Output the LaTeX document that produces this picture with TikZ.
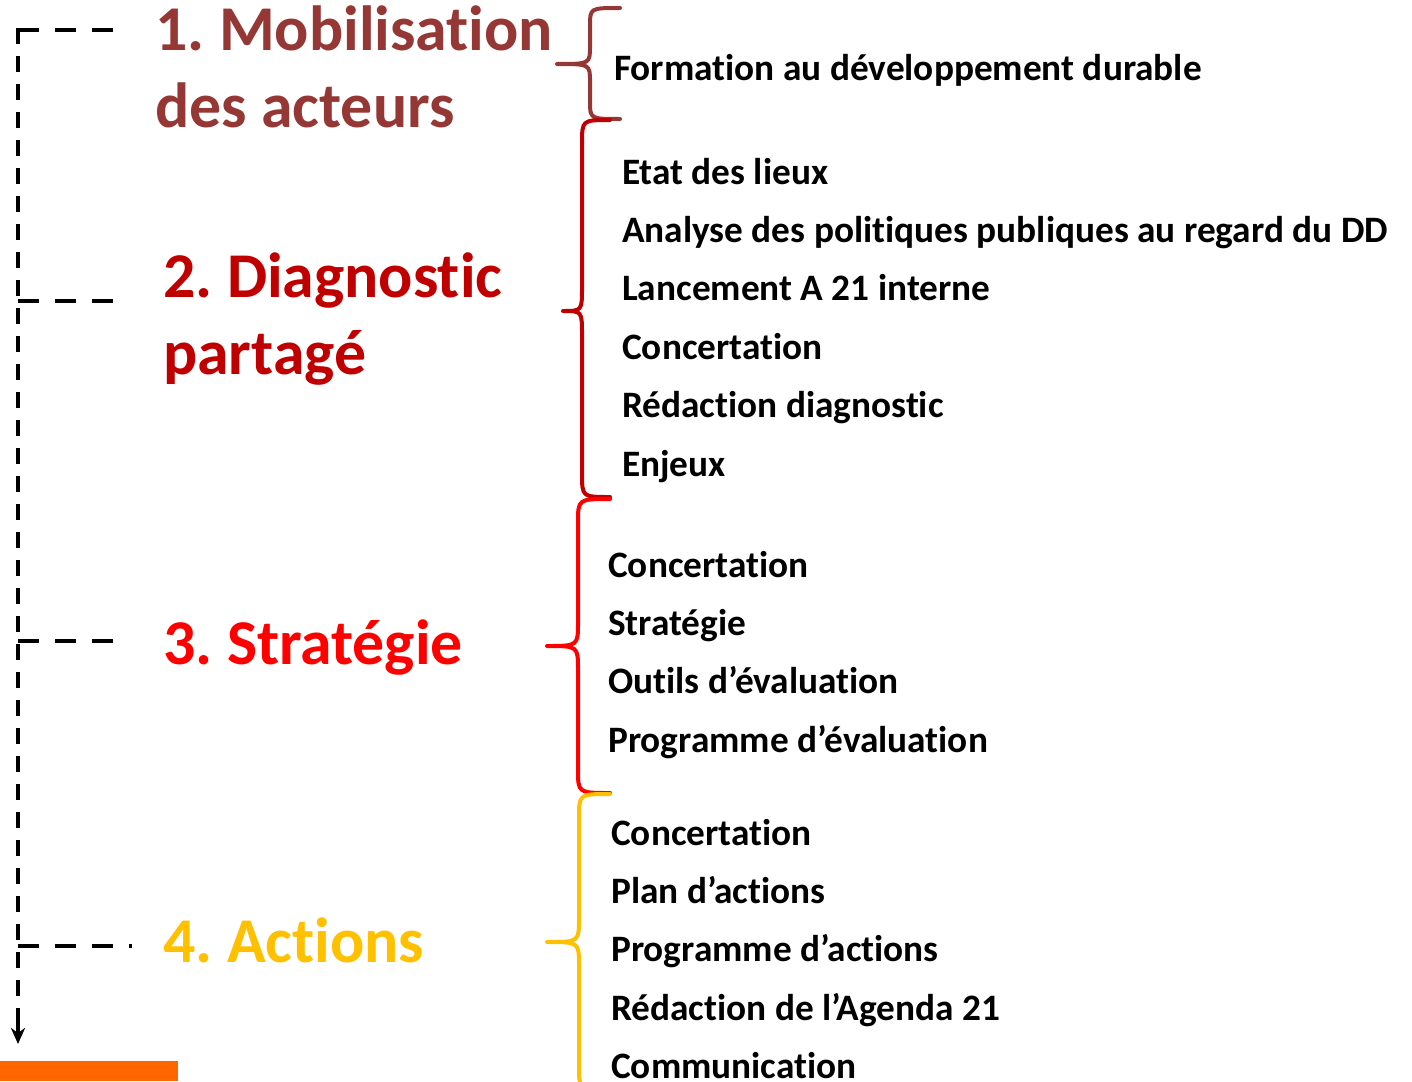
\documentclass[tikz,border=0pt]{standalone}
\usepackage{fontspec}
\setmainfont{Carlito}[Ligatures=NoCommon]
\frenchspacing
\usetikzlibrary{positioning}
\usetikzlibrary{arrows.meta}
\tikzset{>={Stealth[width=14pt,length=16pt,inset=5pt]}}
\definecolor{mobcol}{HTML}{953735}
\definecolor{diagcol}{HTML}{C00000}
\definecolor{stratcol}{HTML}{FF0000}
\definecolor{actcol}{HTML}{FFC000}
\definecolor{barcol}{HTML}{FF6600}

\begin{document}
\begin{tikzpicture}[x=1pt, y=-1pt, title/.style={font=\bfseries\fontsize{63.8}{77}\selectfont, anchor=base west, inner sep=0pt, align=left}, item/.style={font=\bfseries\fontsize{37.3}{44}\selectfont, inner sep=0pt, text height=26pt, text depth=8pt}, brace/.style={line width=4pt, line join=round, line cap=round}, spine/.style={line width=3.5pt, dash pattern=on 16pt off 12pt}, branch/.style={line width=3.5pt, dash pattern=on 21pt off 16pt}]

    \path[use as bounding box, clip] (0,0) rectangle (1412,1081);

    %Titles
    \node[title, text=mobcol](mob) at (155,127){1. Mobilisation\\des acteurs};
    \node[title, text=diagcol](diag) at (163,374){2. Diagnostic\\partagé};
    \node[title, text=stratcol](strat) at (163,664){3. Stratégie};
    \node[title, text=actcol](act) at (163,962){4. Actions};

    %Items
    \node[item, anchor=base west](form) at (614,80){Formation au développement durable};

    \node[item, anchor=base west](etat) at (622,184){Etat des lieux};
    \node[item](analyse)[below right=24pt and 0pt of etat.south west]{Analyse des politiques publiques au regard du DD};
    \node[item](lancement)[below right=24pt and 0pt of analyse.south west]{Lancement A 21 interne};
    \node[item](concdiag)[below right=24pt and 0pt of lancement.south west]{Concertation};
    \node[item](reddiag)[below right=24pt and 0pt of concdiag.south west]{Rédaction diagnostic};
    \node[item](enjeux)[below right=24pt and 0pt of reddiag.south west]{Enjeux};

    \node[item, anchor=base west](concstrat) at (608,577){Concertation};
    \node[item](strategie)[below right=24pt and 0pt of concstrat.south west]{Stratégie};
    \node[item](outils)[below right=24pt and 0pt of strategie.south west]{Outils d’évaluation};
    \node[item](progeval)[below right=24pt and 0pt of outils.south west]{Programme d’évaluation};

    \node[item, anchor=base west](concact) at (611,845){Concertation};
    \node[item](plan)[below right=24pt and 0pt of concact.south west]{Plan d’actions};
    \node[item](progact)[below right=24pt and 0pt of plan.south west]{Programme d’actions};
    \node[item](redact)[below right=24pt and 0pt of progact.south west]{Rédaction de l’Agenda 21};
    \node[item](comm)[below right=24pt and 0pt of redact.south west]{Communication};

    %Braces
    \draw[brace, mobcol] (620,8) .. controls (590,8) .. (590,26) -- (590,46) .. controls (590,64) .. (557,64) .. controls (590,64) .. (590,82) -- (590,101) .. controls (590,119) .. (620,119);
    \draw[brace, diagcol] (610,120) .. controls (582,120) .. (582,144) -- (582,287) .. controls (582,311) .. (563,311) .. controls (582,311) .. (582,335) -- (582,473) .. controls (582,497) .. (610,497);
    \draw[brace, stratcol] (610,499) .. controls (578,499) .. (578,523) -- (578,622) .. controls (578,646) .. (547,646) .. controls (578,646) .. (578,670) -- (578,769) .. controls (578,793) .. (610,793);
    \draw[brace, actcol] (610,794) .. controls (579,794) .. (579,818) -- (579,918) .. controls (579,942) .. (547,942) .. controls (579,942) .. (579,966) -- (579,1066) .. controls (579,1090) .. (610,1090);

    %Lines
    \coordinate (start) at (18,28);
    \coordinate (tipbase) at (18,1020);
    \coordinate (end) at (18,1044);
    \coordinate (b1) at (115,30);
    \coordinate (b2) at (115,301);
    \coordinate (b3) at (115,641);
    \coordinate (b4) at (132,946);
    \draw[spine] (start) -- (tipbase);
    \draw[line width=3.5pt, ->] (tipbase) -- (end);
    \draw[branch] (start |- b1) -- (b1);
    \draw[branch] (start |- b2) -- (b2);
    \draw[branch] (start |- b3) -- (b3);
    \draw[branch] (start |- b4) -- (b4);

    \fill[barcol] (0,1061) rectangle (178,1081);

\end{tikzpicture}
\end{document}
